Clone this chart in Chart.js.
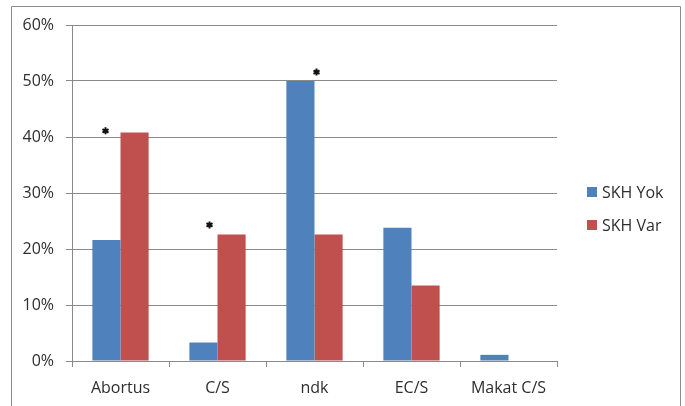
<!DOCTYPE html>
<html>
<head>
<meta charset="utf-8">
<script src="https://cdn.jsdelivr.net/npm/chart.js@4"></script>
<style>
html,body{margin:0;padding:0;background:#fff;}
#wrap{width:685px;height:406px;position:relative;}
</style>
</head>
<body>
<div id="wrap"><canvas id="c" width="685" height="406"></canvas></div>
<script>
const categories = ['Abortus', 'C/S', 'ndk', 'EC/S', 'Makat C/S'];
const seriesNames = ['SKH Yok', 'SKH Var'];
const skhYok = [21.6, 3.3, 50.0, 23.8, 1.1];
const skhVar = [40.8, 22.6, 22.6, 13.5, 0];
const yTicks = [0, 10, 20, 30, 40, 50, 60];
// significance markers: category index and level (percent)
const starCategories = [0, 1, 2];
const starLevels = [41.1, 24.3, 51.6];

const starOffsets = [-15, -8, 2];
const FONT = "'Open Sans', 'Liberation Sans', sans-serif";
const GRID = '#8a8a8a';
const TEXT = '#2e2e2e';

const framePlugin = {
  id: 'frame',
  beforeDraw(chart) {
    const ctx = chart.ctx;
    ctx.save();
    ctx.fillStyle = '#fff';
    ctx.fillRect(0, 0, chart.width, chart.height);
    ctx.strokeStyle = '#8c8c8c';
    ctx.lineWidth = 1;
    ctx.beginPath();
    ctx.moveTo(11.5, 410);
    ctx.lineTo(11.5, 6.5);
    ctx.lineTo(680.5, 6.5);
    ctx.lineTo(680.5, 410);
    ctx.stroke();
    ctx.restore();
  }
};

const starPlugin = {
  id: 'stars',
  afterDatasetsDraw(chart) {
    const ctx = chart.ctx;
    const xs = chart.scales.x, ys = chart.scales.y;
    ctx.save();
    ctx.strokeStyle = '#111';
    ctx.fillStyle = '#111';
    ctx.lineWidth = 2;
    starCategories.forEach((ci, i) => {
      const x = xs.getPixelForValue(ci) + starOffsets[i];
      const y = ys.getPixelForValue(starLevels[i]);
      const r = 3.5;
      ctx.beginPath();
      for (let k = 0; k < 3; k++) {
        const a = Math.PI / 2 + k * Math.PI / 3;
        ctx.moveTo(x + r * Math.cos(a), y + r * Math.sin(a));
        ctx.lineTo(x - r * Math.cos(a), y - r * Math.sin(a));
      }
      ctx.stroke();
      ctx.beginPath();
      ctx.arc(x, y, 1.8, 0, Math.PI * 2);
      ctx.fill();
    });
    ctx.restore();
  }
};

const legendPlugin = {
  id: 'customLegend',
  afterDraw(chart) {
    const ctx = chart.ctx;
    ctx.save();
    ctx.font = '16px ' + FONT;
    ctx.textBaseline = 'middle';
    ctx.textAlign = 'left';
    const ys = [192, 225];
    chart.data.datasets.forEach((ds, i) => {
      ctx.fillStyle = ds.backgroundColor;
      ctx.fillRect(587, ys[i] - 5, 10, 10);
      ctx.fillStyle = TEXT;
      ctx.fillText(ds.label, 602, ys[i] + 1);
    });
    ctx.restore();
  }
};

new Chart(document.getElementById('c'), {
  type: 'bar',
  data: {
    labels: categories,
    datasets: [
      { label: seriesNames[0], data: skhYok, backgroundColor: '#4F81BD', categoryPercentage: 0.58, barPercentage: 1.0 },
      { label: seriesNames[1], data: skhVar, backgroundColor: '#C0504D', categoryPercentage: 0.58, barPercentage: 1.0 }
    ]
  },
  options: {
    responsive: false,
    animation: false,
    events: [],
    layout: { padding: { left: 11, right: 128, top: 25, bottom: 0 } },
    plugins: {
      legend: { display: false },
      tooltip: { enabled: false },
      title: { display: false }
    },
    scales: {
      x: {
        grid: { display: true, offset: true, drawOnChartArea: false, drawTicks: true, tickLength: 6, color: GRID },
        border: { display: true, color: GRID, width: 1 },
        ticks: { color: TEXT, font: { family: FONT, size: 16 }, padding: 12, maxRotation: 0, autoSkip: false },
        afterFit(s) { s.height = 45; }
      },
      y: {
        min: 0, max: 60,
        afterBuildTicks(s) { s.ticks = yTicks.map(v => ({ value: v })); },
        grid: { display: true, drawTicks: true, tickLength: 6, color: GRID },
        border: { display: true, color: GRID, width: 1 },
        ticks: { color: TEXT, font: { family: FONT, size: 16 }, padding: 12, callback: v => v + '%' },
        afterFit(s) { s.width = 61; }
      }
    }
  },
  plugins: [framePlugin, starPlugin, legendPlugin]
});
</script>
</body>
</html>
